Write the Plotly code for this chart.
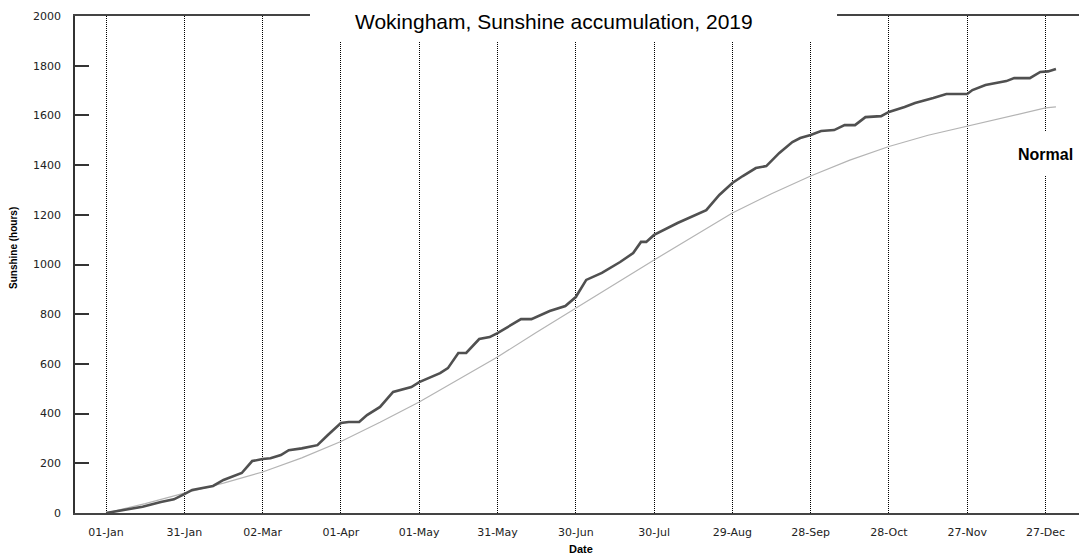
import pandas as pd
import plotly.graph_objects as go

# ---- data (day-of-year offsets from 01-Jan-2019, cumulative hours) ----
actual_days = [0, 7, 14, 21, 26, 30, 33, 41, 45, 52, 56, 60, 63, 67, 70, 75, 81, 85, 90, 93, 97,
               100, 105, 110, 117, 120, 128, 131, 135, 138, 143, 147, 150, 159, 163, 170, 176,
               180, 184, 190, 197, 202, 205, 207, 210, 219, 224, 230, 235, 240, 244, 249, 253,
               258, 263, 266, 270, 274, 279, 283, 287, 291, 297, 300, 306, 310, 317, 322, 330,
               332, 337, 345, 348, 354, 358, 361, 364]
actual_hours = [0, 12, 25, 44, 55, 76, 93, 109, 133, 161, 209, 217, 220, 233, 253, 260, 273, 314, 362, 366, 366,
                394, 427, 487, 507, 527, 563, 583, 644, 644, 700, 708, 724, 780, 780, 813, 833,
                869, 938, 966, 1010, 1046, 1091, 1091, 1119, 1167, 1191, 1219, 1280, 1328, 1356, 1388, 1396,
                1449, 1493, 1509, 1521, 1537, 1541, 1561, 1561, 1593, 1597, 1614, 1634, 1650, 1670, 1686, 1686,
                1702, 1722, 1738, 1750, 1750, 1775, 1777, 1787]

normal_days = [0, 15, 30, 45, 60, 75, 90, 105, 120, 135, 150, 165, 180, 195, 210, 225, 240,
               255, 270, 285, 300, 315, 330, 345, 360, 364]
normal_hours = [0, 38, 80, 120, 165, 222, 288, 365, 447, 537, 628, 727, 825, 922, 1018, 1113, 1207,
                1285, 1356, 1420, 1475, 1520, 1557, 1595, 1630, 1634]

tick_days = [0, 30, 60, 90, 120, 150, 180, 210, 240, 270, 300, 330, 360]
tick_labels = ["01-Jan", "31-Jan", "02-Mar", "01-Apr", "01-May", "31-May", "30-Jun",
               "30-Jul", "29-Aug", "28-Sep", "28-Oct", "27-Nov", "27-Dec"]
y_ticks = [0, 200, 400, 600, 800, 1000, 1200, 1400, 1600, 1800, 2000]

title_text = "Wokingham, Sunshine accumulation, 2019"
normal_label = "Normal"

base = pd.Timestamp("2019-01-01")
to_date = lambda d: base + pd.to_timedelta(d, unit="D")

fig = go.Figure()
fig.add_trace(go.Scatter(x=[to_date(d) for d in normal_days], y=normal_hours, mode="lines",
                         line=dict(color="#b4b4b4", width=1.2), showlegend=False))
fig.add_trace(go.Scatter(x=[to_date(d) for d in actual_days], y=actual_hours, mode="lines",
                         line=dict(color="#505050", width=2.6), showlegend=False))

# the page body adds an 8px offset, so the figure is laid out 8px smaller
fig.update_layout(
    width=1079, height=549,
    margin=dict(l=67, r=0, t=8, b=44),
    paper_bgcolor="white", plot_bgcolor="white",
    font=dict(family="DejaVu Sans", size=11, color="#222"),
    xaxis=dict(
        type="date",
        range=[to_date(-11.9), to_date(375.9)],
        tickvals=[to_date(d) for d in tick_days], ticktext=tick_labels,
        showgrid=True, gridcolor="#000", gridwidth=1, griddash="1px,1px",
        showline=True, linecolor="#444", linewidth=2, mirror=True,
        ticks="", ticklabelstandoff=8, zeroline=False,
        tickfont=dict(family="DejaVu Sans", size=11, color="#222"),
    ),
    yaxis=dict(
        range=[0, 2000], tickvals=y_ticks,
        showgrid=False, zeroline=False,
        showline=True, linecolor="#333", linewidth=1.5,
        ticks="inside", ticklen=14, tickcolor="#333", tickwidth=1.5,
        ticklabelstandoff=10,
        tickfont=dict(family="DejaVu Sans", size=11, color="#222"),
    ),
)

# white box behind title (breaks top line and gridlines)
fig.add_shape(type="rect", xref="paper", yref="paper", x0=0.2322, x1=0.7530, y0=0.9477, y1=1.04,
              fillcolor="white", line=dict(width=0), layer="above")
fig.add_annotation(text=title_text, xref="paper", yref="paper", x=(553.5 - 75) / 1012, y=(513 - 22) / 497,
                   showarrow=False, xanchor="center", yanchor="middle",
                   font=dict(family="Liberation Sans", size=21, color="#000"))

# "Normal" label box
fig.add_shape(type="rect", xref="paper", yref="paper", x0=0.929, x1=0.988, y0=0.680, y1=0.7666,
              fillcolor="white", line=dict(width=0), layer="above")
fig.add_annotation(text="<b>" + normal_label + "</b>", xref="paper", yref="paper",
                   x=(1045 - 75) / 1012, y=(513 - 154) / 497, showarrow=False,
                   xanchor="center", yanchor="middle",
                   font=dict(family="Liberation Sans", size=16, color="#000"))

# axis titles
fig.add_annotation(text="<b>Sunshine (hours)</b>", xref="paper", yref="paper",
                   x=(14 - 75) / 1012, y=(513 - 248) / 497, textangle=-90, showarrow=False,
                   xanchor="center", yanchor="middle",
                   font=dict(family="Liberation Sans", size=10, color="#000"))
fig.add_annotation(text="<b>Date</b>", xref="paper", yref="paper",
                   x=0.5, y=(513 - 549) / 497, showarrow=False,
                   xanchor="center", yanchor="middle",
                   font=dict(family="Liberation Sans", size=11, color="#000"))

fig.write_html("out.html")
